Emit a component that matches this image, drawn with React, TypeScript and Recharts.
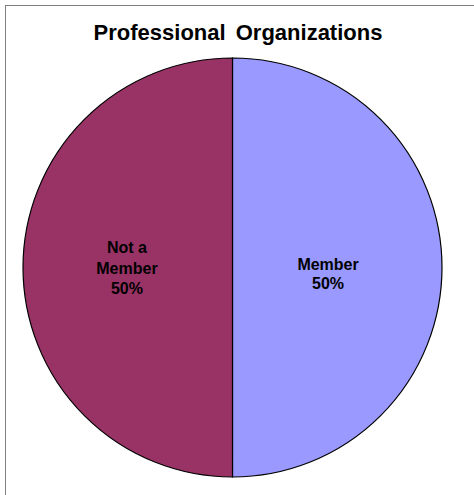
import { PieChart, Pie, Cell } from "recharts"

const categories = ["Member", "Not a Member"]
const shares = [50, 50]
const sliceColors = ["#9999FF", "#993366"]

const data = categories.map((name, i) => ({ name, value: shares[i] }))

const RADIAN = Math.PI / 180

const renderLabel = (props: any) => {
  const { cx, cy, midAngle, outerRadius, name, percent } = props
  const r = outerRadius * 0.48
  const x = cx + r * Math.cos(-midAngle * RADIAN) - 5
  const y = cy + r * Math.sin(-midAngle * RADIAN)
  const lines = name === "Not a Member" ? ["Not a", "Member"] : [name]
  lines.push(`${Math.round(percent * 100)}%`)
  const lh = lines.length > 2 ? 20.5 : 18.5
  // excel-ish anchoring: short labels sit a bit lower
  const top = y - ((lines.length - 1) * lh) / 2 + (lines.length > 2 ? 0 : 6)
  return (
    <text
      x={x}
      y={top}
      textAnchor="middle"
      dominantBaseline="central"
      fill="#000"
      style={{ fontFamily: "Liberation Sans, Arial, sans-serif", fontWeight: "bold", fontSize: 16 }}
    >
      {lines.map((l, i) => (
        <tspan key={i} x={x} y={top + i * lh}>
          {l}
        </tspan>
      ))}
    </text>
  )
}

export default function App() {
  return (
    <div style={{ position: "absolute", left: 0, top: 0, width: 474, height: 495, background: "#fff" }}>
      <div
        style={{
          position: "absolute",
          left: 5,
          top: 5,
          width: 480,
          height: 500,
          borderTop: "1px solid #808080",
          borderLeft: "1px solid #808080",
        }}
      />
      <div
        style={{
          position: "absolute",
          left: 0,
          top: 18,
          width: 476,
          textAlign: "center",
          fontFamily: "Liberation Sans, Arial, sans-serif",
          fontWeight: "bold",
          fontSize: 22,
          wordSpacing: 4,
          lineHeight: "30px",
        }}
      >
        Professional Organizations
      </div>
      <div style={{ position: "absolute", left: 0, top: 0 }}>
        <PieChart width={474} height={495} margin={{ top: 0, right: 0, bottom: 0, left: 0 }}>
          <Pie
            data={data}
            dataKey="value"
            nameKey="name"
            cx={232.5}
            cy={267.5}
            outerRadius={209.5}
            startAngle={90}
            endAngle={-270}
            stroke="#000"
            strokeWidth={1.2}
            label={renderLabel}
            labelLine={false}
            isAnimationActive={false}
          >
            {data.map((d, i) => (
              <Cell key={d.name} fill={sliceColors[i]} />
            ))}
          </Pie>
        </PieChart>
      </div>
    </div>
  )
}
